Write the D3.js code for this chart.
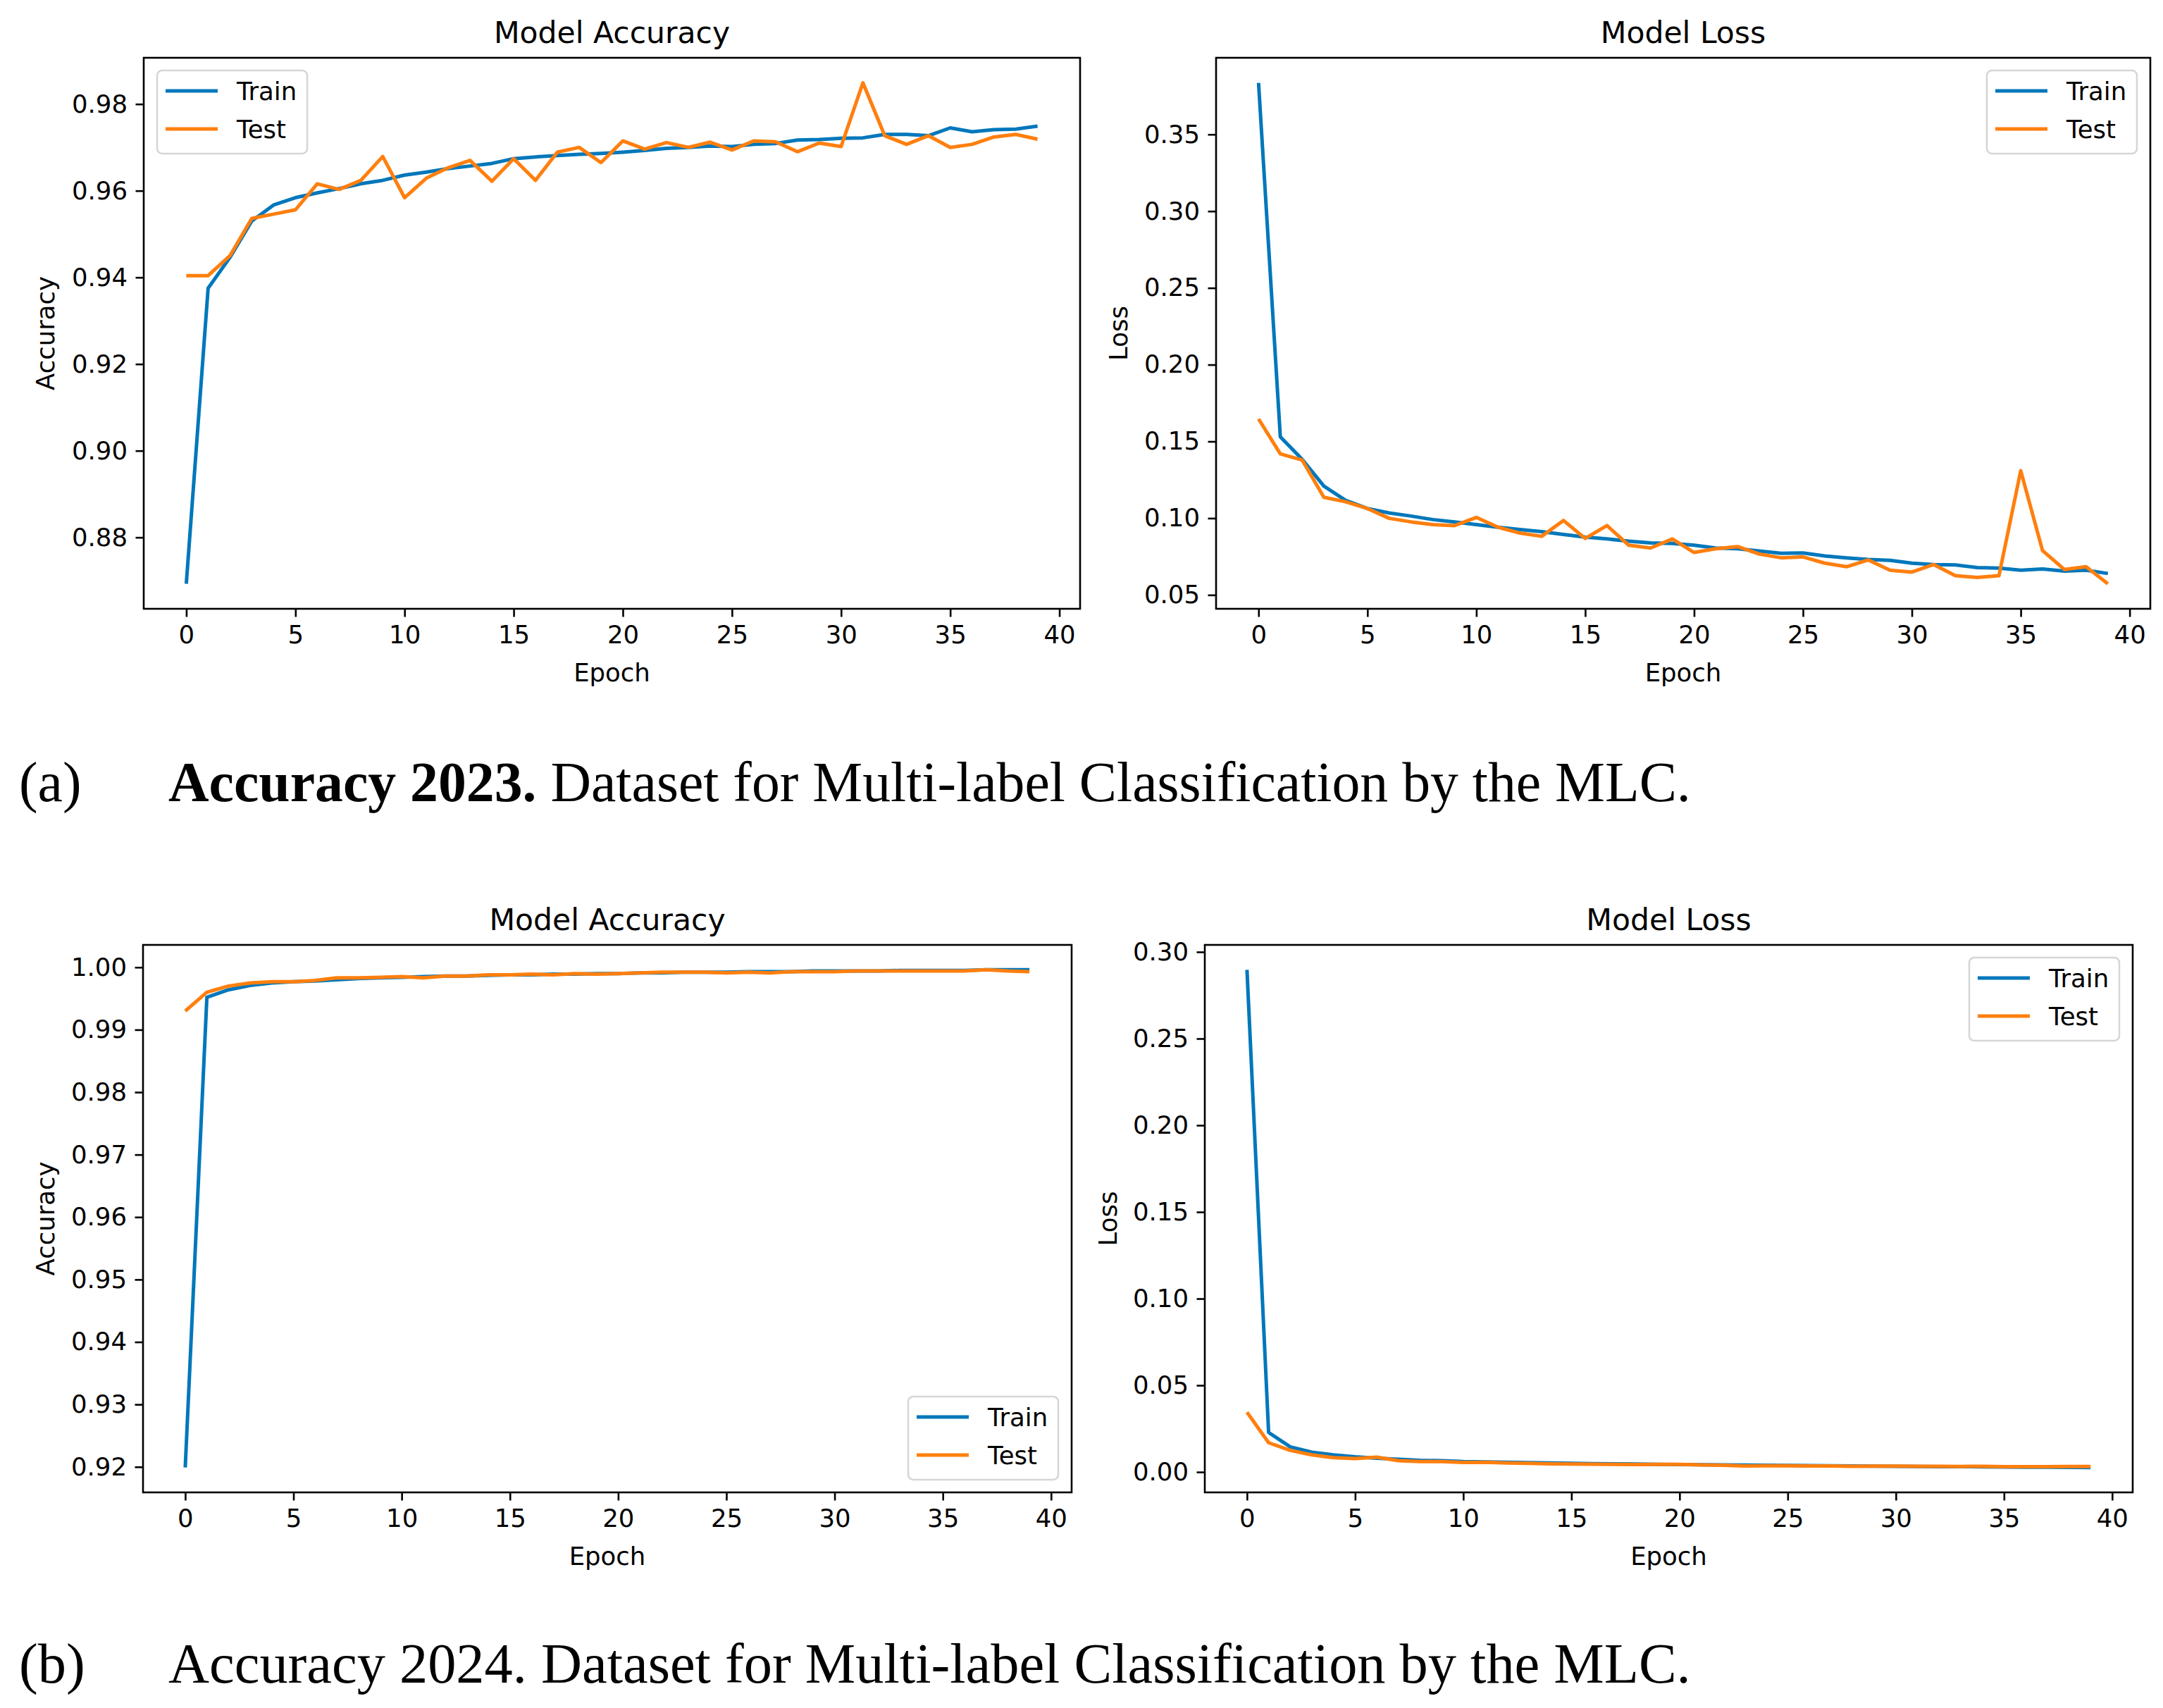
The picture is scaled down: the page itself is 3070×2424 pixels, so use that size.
<!DOCTYPE html>
<meta charset="utf-8">
<script src="https://d3js.org/d3.v7.min.js"></script>
<style>
  body { margin: 0; background: #fff; }
</style>
<div id="fig"></div>
<script>

  // ---- data ----
  const epochs = d3.range(40);
  const xTicks = d3.range(0, 41, 5);

  const acc2023Train = [0.8693, 0.9375, 0.9446, 0.9530, 0.9567, 0.9584, 0.9595, 0.9605, 0.9616, 0.9624,
                        0.9636, 0.9643, 0.9651, 0.9657, 0.9663, 0.9674, 0.9678, 0.9681, 0.9684, 0.9686,
                        0.9689, 0.9693, 0.9698, 0.9700, 0.9703, 0.9702, 0.9707, 0.9709, 0.9717, 0.9718,
                        0.9721, 0.9722, 0.9730, 0.9730, 0.9727, 0.9745, 0.9736, 0.9741, 0.9742, 0.9749];
  const acc2023Test  = [0.9404, 0.9404, 0.9450, 0.9536, 0.9546, 0.9556, 0.9616, 0.9603, 0.9624, 0.9679,
                        0.9584, 0.9629, 0.9653, 0.9670, 0.9622, 0.9674, 0.9624, 0.9689, 0.9700, 0.9665,
                        0.9715, 0.9696, 0.9711, 0.9700, 0.9712, 0.9694, 0.9715, 0.9713, 0.9690, 0.9710,
                        0.9702, 0.9849, 0.9727, 0.9707, 0.9727, 0.9700, 0.9707, 0.9724, 0.9730, 0.9719];

  const loss2023Train = [0.3836, 0.1530, 0.1384, 0.1209, 0.1116, 0.1063, 0.1034, 0.1014, 0.0991, 0.0976,
                         0.0958, 0.0941, 0.0926, 0.0912, 0.0894, 0.0877, 0.0865, 0.0850, 0.0839, 0.0836,
                         0.0824, 0.0806, 0.0801, 0.0786, 0.0771, 0.0774, 0.0754, 0.0742, 0.0731, 0.0725,
                         0.0707, 0.0698, 0.0696, 0.0678, 0.0675, 0.0661, 0.0669, 0.0655, 0.0661, 0.0640];
  const loss2023Test  = [0.1647, 0.1419, 0.1379, 0.1136, 0.1107, 0.1063, 0.0999, 0.0976, 0.0958, 0.0952,
                         0.1005, 0.0941, 0.0903, 0.0882, 0.0985, 0.0868, 0.0952, 0.0824, 0.0806, 0.0865,
                         0.0777, 0.0801, 0.0815, 0.0766, 0.0742, 0.0748, 0.0707, 0.0684, 0.0728, 0.0661,
                         0.0649, 0.0698, 0.0626, 0.0614, 0.0626, 0.1309, 0.0789, 0.0666, 0.0684, 0.0573];

  const acc2024Train = [0.9199, 0.9952, 0.9964, 0.9971, 0.9975, 0.9977, 0.9978, 0.9980, 0.9982, 0.9983,
                        0.9984, 0.9985, 0.9986, 0.9986, 0.9987, 0.9988, 0.9988, 0.9989, 0.9989, 0.9990,
                        0.9990, 0.9991, 0.9991, 0.9992, 0.9992, 0.9992, 0.9993, 0.9993, 0.9993, 0.9994,
                        0.9994, 0.9994, 0.9994, 0.9995, 0.9995, 0.9995, 0.9995, 0.9996, 0.9996, 0.9996];
  const acc2024Test  = [0.9930, 0.9960, 0.9970, 0.9975, 0.9977, 0.9977, 0.9979, 0.9983, 0.9983, 0.9984,
                        0.9985, 0.9983, 0.9986, 0.9986, 0.9988, 0.9988, 0.9989, 0.9988, 0.9990, 0.9989,
                        0.9990, 0.9991, 0.9992, 0.9992, 0.9992, 0.9991, 0.9992, 0.9991, 0.9993, 0.9993,
                        0.9993, 0.9994, 0.9994, 0.9994, 0.9994, 0.9994, 0.9994, 0.9996, 0.9994, 0.9993];

  const loss2024Train = [0.2897, 0.0228, 0.0145, 0.0114, 0.0099, 0.0088, 0.0080, 0.0073, 0.0067, 0.0065,
                         0.0060, 0.0058, 0.0056, 0.0054, 0.0052, 0.0050, 0.0048, 0.0047, 0.0046, 0.0044,
                         0.0043, 0.0042, 0.0041, 0.0040, 0.0039, 0.0038, 0.0037, 0.0036, 0.0035, 0.0034,
                         0.0033, 0.0032, 0.0031, 0.0031, 0.0030, 0.0029, 0.0028, 0.0028, 0.0027, 0.0026];
  const loss2024Test  = [0.0345, 0.0169, 0.0125, 0.0099, 0.0083, 0.0078, 0.0086, 0.0065, 0.0060, 0.0060,
                         0.0055, 0.0056, 0.0052, 0.0050, 0.0047, 0.0046, 0.0045, 0.0044, 0.0043, 0.0044,
                         0.0044, 0.0041, 0.0039, 0.0035, 0.0036, 0.0036, 0.0035, 0.0035, 0.0033, 0.0034,
                         0.0034, 0.0033, 0.0033, 0.0032, 0.0033, 0.0031, 0.0031, 0.0031, 0.0032, 0.0032];

  const ticksAcc2023 = [0.88, 0.90, 0.92, 0.94, 0.96, 0.98];
  const ticksLoss2023 = [0.05, 0.10, 0.15, 0.20, 0.25, 0.30, 0.35];
  const ticksAcc2024 = [0.92, 0.93, 0.94, 0.95, 0.96, 0.97, 0.98, 0.99, 1.00];
  const ticksLoss2024 = [0.00, 0.05, 0.10, 0.15, 0.20, 0.25, 0.30];

  const seriesNames = ["Train", "Test"];
  const colors = ["#0077bb", "#ff7f0e"];

  // ---- figure ----
  const W = 3070, H = 2424;
  const svg = d3.select("#fig").append("svg")
      .attr("width", W).attr("height", H)
      .style("background", "#fff");

  const FONT = "DejaVu Sans, sans-serif";
  const TICK_FS = 35.5, TITLE_FS = 42.5;

  const panels = [
    {left: 204, right: 1533, top: 82, bottom: 864, title: "Model Accuracy", ylabel: "Accuracy", ylabelX: 64,
     yTicks: ticksAcc2023, train: acc2023Train, test: acc2023Test, legend: "upper left"},
    {left: 1726, right: 3052, top: 82, bottom: 864, title: "Model Loss", ylabel: "Loss", ylabelX: 1587,
     yTicks: ticksLoss2023, train: loss2023Train, test: loss2023Test, legend: "upper right"},
    {left: 203, right: 1521, top: 1341, bottom: 2118, title: "Model Accuracy", ylabel: "Accuracy", ylabelX: 64,
     yTicks: ticksAcc2024, train: acc2024Train, test: acc2024Test, legend: "lower right"},
    {left: 1710, right: 3027, top: 1341, bottom: 2118, title: "Model Loss", ylabel: "Loss", ylabelX: 1572,
     yTicks: ticksLoss2024, train: loss2024Train, test: loss2024Test, legend: "upper right"}
  ];

  panels.forEach(drawPanel);

  function drawPanel(p) {
    // matplotlib style autoscale: 5% margins
    const x = d3.scaleLinear()
        .domain([-0.05 * 39, 39 + 0.05 * 39])
        .range([p.left, p.right]);
    const ext = d3.extent(p.train.concat(p.test));
    const pad = (ext[1] - ext[0]) * 0.05;
    const y = d3.scaleLinear()
        .domain([ext[0] - pad, ext[1] + pad])
        .range([p.bottom, p.top]);

    const g = svg.append("g");

    // lines
    const line = d3.line()
        .x((d, i) => x(epochs[i]))
        .y(d => y(d));
    [p.train, p.test].forEach((s, k) => {
      g.append("path")
        .datum(s)
        .attr("fill", "none")
        .attr("stroke", colors[k])
        .attr("stroke-width", 5)
        .attr("stroke-linejoin", "round")
        .attr("d", line);
    });

    // axes
    const xAxis = g.append("g")
        .attr("transform", `translate(0,${p.bottom})`)
        .call(d3.axisBottom(x).tickValues(xTicks).tickSize(11.5).tickPadding(12).tickSizeOuter(0));
    const yAxis = g.append("g")
        .attr("transform", `translate(${p.left},0)`)
        .call(d3.axisLeft(y).tickValues(p.yTicks).tickFormat(d3.format(".2f"))
              .tickSize(11.5).tickPadding(11.5).tickSizeOuter(0));
    [xAxis, yAxis].forEach(a => {
      a.select(".domain").remove();
      a.selectAll("line").attr("stroke", "#000").attr("stroke-width", 2.6);
      a.selectAll("text").attr("font-family", FONT).attr("font-size", TICK_FS).attr("fill", "#000");
    });

    // frame
    g.append("rect")
      .attr("x", p.left).attr("y", p.top)
      .attr("width", p.right - p.left).attr("height", p.bottom - p.top)
      .attr("fill", "none").attr("stroke", "#000").attr("stroke-width", 2.6);

    // title and labels
    g.append("text")
      .attr("x", (p.left + p.right) / 2).attr("y", p.top - 21)
      .attr("text-anchor", "middle")
      .attr("font-family", FONT).attr("font-size", TITLE_FS)
      .text(p.title);
    g.append("text")
      .attr("x", (p.left + p.right) / 2).attr("y", p.bottom + 103)
      .attr("text-anchor", "middle")
      .attr("font-family", FONT).attr("font-size", TICK_FS)
      .text("Epoch");
    g.append("text")
      .attr("transform", `translate(${p.ylabelX},${(p.top + p.bottom) / 2}) rotate(-90)`)
      .attr("text-anchor", "middle")
      .attr("dominant-baseline", "central")
      .attr("font-family", FONT).attr("font-size", TICK_FS)
      .text(p.ylabel);

    // legend
    const lw = 213, lh = 118, off = 19;
    const lx = p.legend.endsWith("left") ? p.left + off : p.right - off - lw;
    const ly = p.legend.startsWith("upper") ? p.top + 18 : p.bottom - 18 - lh;
    const leg = g.append("g").attr("transform", `translate(${lx},${ly})`);
    leg.append("rect")
      .attr("width", lw).attr("height", lh).attr("rx", 7)
      .attr("fill", "#fff").attr("fill-opacity", 0.8)
      .attr("stroke", "#d6d6d6").attr("stroke-width", 2.6);
    seriesNames.forEach((name, k) => {
      const cy = 29 + k * 54;
      leg.append("line")
        .attr("x1", 12).attr("x2", 86).attr("y1", cy).attr("y2", cy)
        .attr("stroke", colors[k]).attr("stroke-width", 5);
      leg.append("text")
        .attr("x", 113).attr("y", cy)
        .attr("dominant-baseline", "central")
        .attr("font-family", FONT).attr("font-size", TICK_FS)
        .text(name);
    });
  }

  // ---- captions ----
  const SERIF = "'Palatino Linotype', 'Book Antiqua', Palatino, 'Liberation Serif', serif";
  const captions = [
    {tag: "(a)", bold: "Accuracy 2023.", rest: " Dataset for Multi-label Classification by the MLC.", y: 1137},
    {tag: "(b)", bold: "", rest: "Accuracy 2024. Dataset for Multi-label Classification by the MLC.", y: 2388}
  ];
  captions.forEach(c => {
    const t = svg.append("text")
      .attr("x", 239).attr("y", c.y)
      .attr("font-family", SERIF).attr("font-size", 75);
    if (c.bold) t.append("tspan").attr("font-weight", "bold").text(c.bold);
    t.append("tspan").text(c.rest);
    // fit caption width to the reference (about 2161 px)
    const w = t.node().getComputedTextLength();
    const fs = 75 * 2161 / w;
    t.attr("font-size", fs);
    svg.append("text")
      .attr("x", 27).attr("y", c.y)
      .attr("font-family", SERIF).attr("font-size", fs)
      .text(c.tag);
  });

</script>
